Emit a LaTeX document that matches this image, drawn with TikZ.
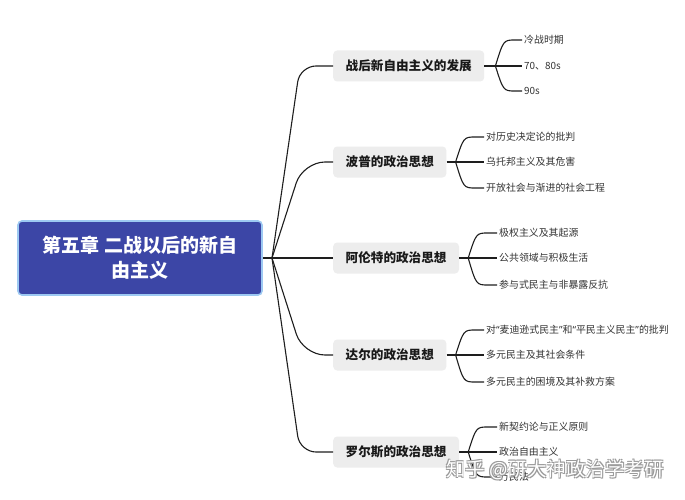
\documentclass[tikz,border=0pt]{standalone}
\usepackage{fontspec}
\setmainfont{Noto Sans CJK SC}
\newfontfamily\latinq{Noto Sans}
\usetikzlibrary{calc}
\definecolor{rootfill}{HTML}{3C46A6}
\definecolor{rootedge}{HTML}{9DC9F2}
\definecolor{boxfill}{HTML}{EDEDED}
\definecolor{lineclr}{HTML}{1E1E1E}
\definecolor{leafclr}{HTML}{333333}
\definecolor{wmedge}{HTML}{9A9A9A}
\newcommand\leafconn[2]{\draw[conn] (#1) .. controls ($(#1 |- #2.west)+(8,0)$) .. ($(#1 |- #2.west)+(20,0)$) -- (#2.west);}
\newcommand\myopenq{{\latinq “}}
\newcommand\myclosq{{\latinq ”}}
\begin{document}
\begin{tikzpicture}[x=1pt,y=-1pt,
  rootbox/.style={draw=rootedge, line width=1.6pt, fill=rootfill, rounded corners=4pt, text=white,
    font=\fontsize{19}{25}\selectfont\bfseries, align=center, minimum width=244pt, minimum height=74pt},
  topicbox/.style={fill=boxfill, rounded corners=4pt, font=\fontsize{12.6}{15}\selectfont\bfseries,
    text=black!90, inner xsep=12.5pt, minimum height=31pt, anchor=west},
  leaf/.style={font=\fontsize{9.9}{12}\selectfont, text=leafclr, inner xsep=2pt, anchor=west},
  conn/.style={draw=lineclr, line width=1.1pt},
  wm/.style={font=\fontsize{19.5}{22}\selectfont, inner sep=0pt},
]
\useasboundingbox (0,0) rectangle (685,500);
\fill[white] (0,0) rectangle (685,500);

% root
\node[rootbox] (root) at (140,258) {第五章 二战以后的新自\\由主义};
\coordinate (B) at (272,258);
\draw[conn] (root.east) -- (B);

% topics
\node[topicbox] (t1) at (333,66) {战后新自由主义的发展};
\node[topicbox] (t2) at (333,162) {波普的政治思想};
\node[topicbox] (t3) at (333,258) {阿伦特的政治思想};
\node[topicbox] (t4) at (333,355) {达尔的政治思想};
\node[topicbox] (t5) at (333,452) {罗尔斯的政治思想};

\draw[conn, rounded corners=16pt] (B) -- (300,66) -- (t1.west);
\draw[conn, rounded corners=22pt] (B) -- (303,162) -- (t2.west);
\draw[conn] (B) -- (t3.west);
\draw[conn, rounded corners=22pt] (B) -- (303,355) -- (t4.west);
\draw[conn, rounded corners=16pt] (B) -- (300,452) -- (t5.west);

% group 1
\draw[conn] (t1.east) -- ++(11,0) coordinate (b1);
\node[leaf] (l11) at (522,40) {冷战时期};
\node[leaf] (l12) at (522,66) {70、80s};
\node[leaf] (l13) at (522,91) {90s};
\leafconn{b1}{l11}\leafconn{b1}{l12}\leafconn{b1}{l13}

% group 2
\draw[conn] (t2.east) -- ++(9,0) coordinate (b2);
\node[leaf] (l21) at (484,137) {对历史决定论的批判};
\node[leaf] (l22) at (484,162) {乌托邦主义及其危害};
\node[leaf] (l23) at (484,188) {开放社会与渐进的社会工程};
\leafconn{b2}{l21}\leafconn{b2}{l22}\leafconn{b2}{l23}

% group 3
\draw[conn] (t3.east) -- ++(9,0) coordinate (b3);
\node[leaf] (l31) at (497,233) {极权主义及其起源};
\node[leaf] (l32) at (497,258) {公共领域与积极生活};
\node[leaf] (l33) at (497,285) {参与式民主与非暴露反抗};
\leafconn{b3}{l31}\leafconn{b3}{l32}\leafconn{b3}{l33}

% group 4
\draw[conn] (t4.east) -- ++(9,0) coordinate (b4);
\node[leaf] (l41) at (484,330) {对\myopenq 麦迪逊式民主\myclosq 和\myopenq 平民主义民主\myclosq 的批判};
\node[leaf] (l42) at (484,355) {多元民主及其社会条件};
\node[leaf] (l43) at (484,382) {多元民主的困境及其补救方案};
\leafconn{b4}{l41}\leafconn{b4}{l42}\leafconn{b4}{l43}

% group 5
\draw[conn] (t5.east) -- ++(9,0) coordinate (b5);
\node[leaf] (l51) at (497,427) {新契约论与正义原则};
\node[leaf] (l52) at (497,452) {政治自由主义};
\node[leaf] (l53) at (497,477) {万民法};
\leafconn{b5}{l51}\leafconn{b5}{l52}\leafconn{b5}{l53}

% watermark
\foreach \dx/\dy [count=\i] in {-0.6/-0.6,0.6/0.6,-0.6/0.6,0.6/-0.6}
  \node[wm, text=wmedge] (wmo\i) at (555+\dx,470+\dy) {知乎 @研大神政治学考研};
\node[wm, text=white] (wm) at (555,470) {知乎 @研大神政治学考研};
\end{tikzpicture}
\end{document}
